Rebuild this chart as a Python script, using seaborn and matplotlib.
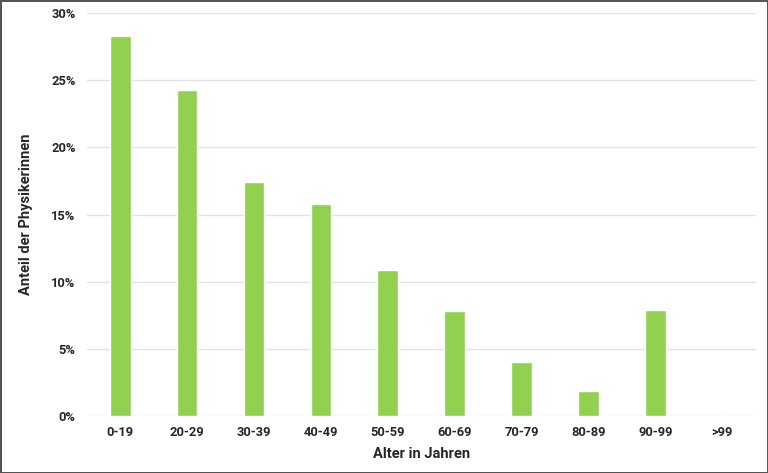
import pandas as pd
import seaborn as sns
import matplotlib.pyplot as plt
from matplotlib.ticker import PercentFormatter

# age groups and share of female physicists (%)
age_groups = ['0-19', '20-29', '30-39', '40-49', '50-59', '60-69', '70-79', '80-89', '90-99', '>99']
shares = [28.3, 24.3, 17.4, 15.8, 10.9, 7.8, 4.05, 1.85, 7.9, 0.0]

df = pd.DataFrame({'Alter': age_groups, 'Anteil': shares})

sns.set_style('white')
plt.rcParams['font.family'] = ['Roboto', 'DejaVu Sans']
plt.rcParams['font.weight'] = 'bold'

fig = plt.figure(figsize=(7.68, 4.73), dpi=100, edgecolor='#555555', linewidth=2)
ax = fig.add_axes([0.113, 0.1205, 0.871, 0.852])

sns.barplot(x='Alter', y='Anteil', data=df, color='#92d050', saturation=1,
            width=0.31, ax=ax, zorder=3)

ax.set_ylim(0, 30)
ax.set_yticks(range(0, 31, 5))
ax.yaxis.set_major_formatter(PercentFormatter(decimals=0))
ax.grid(axis='y', color='#e3e3e3', linewidth=1, zorder=0)
ax.set_axisbelow(True)
sns.despine(ax=ax, left=True, bottom=True, top=True, right=True)
ax.tick_params(axis='x', length=0, labelsize=9.3, pad=7)
ax.tick_params(axis='y', length=0, labelsize=9.3, pad=8)
for lab in ax.get_xticklabels() + ax.get_yticklabels():
    lab.set_fontweight('bold')

ax.set_xlabel('Alter in Jahren', fontsize=10.5, fontweight='bold', labelpad=6)
ax.set_ylabel('Anteil der Physikerinnen', fontsize=10.5, fontweight='bold', labelpad=13)

fig.savefig('out.png', dpi=100)
